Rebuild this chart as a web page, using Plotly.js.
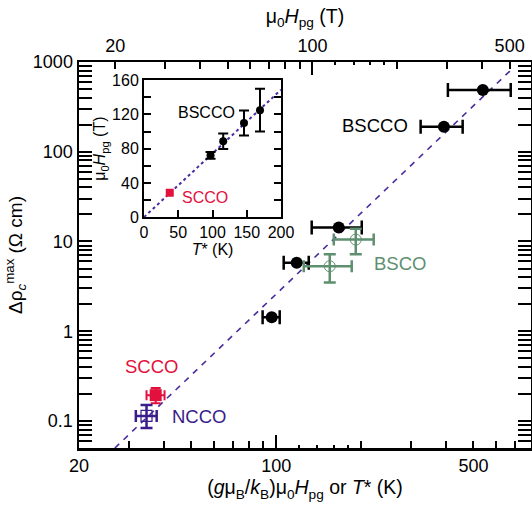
<!DOCTYPE html>
<html>
<head>
<meta charset="utf-8">
<script src="https://cdn.plot.ly/plotly-3.0.1.min.js"></script>
<style>html,body{margin:0;padding:0;background:#fff;}#chart{width:532px;height:505px;}</style>
</head>
<body>
<div id="chart"></div>
<script>
// ---------- data (main panel) ----------
const bsccoX    = [96.4, 118.2, 166.6, 393, 540];
const bsccoXlo  = [89.5, 106.3, 133.6, 325, 406];
const bsccoXhi  = [102.9, 130.4, 201, 458, 678];
const bsccoRho  = [1.43, 5.8, 14.3, 190, 488];

const bscoX     = [191.4, 154.8];
const bscoXlo   = [160, 125.2];
const bscoXhi   = [221.6, 185.2];
const bscoRho   = [10.5, 5.3];
const bscoRhoLo = [7.2, 3.5];
const bscoRhoHi = [13.9, 7.2];

const sccoX     = [37.4];
const sccoXlo   = [34.7];
const sccoXhi   = [40.2];
const sccoRho   = [0.194];
const sccoRhoLo = [0.158];
const sccoRhoHi = [0.233];

const nccoX     = [34.7];
const nccoXlo   = [31.8];
const nccoXhi   = [37.7];
const nccoRho   = [0.114];
const nccoRhoLo = [0.0836];
const nccoRhoHi = [0.151];

// cubic fit  Δρ = A * x^3
const fitA = 0.05 / Math.pow(26.8, 3);
const fitExp = 3;
const fitX = [26.8, 684];

// ---------- data (inset) ----------
const inTstar = [97.1, 115.6, 145.9, 169.3];
const inH     = [72.2, 88.6, 110, 124.9];
const inHerr  = [4, 9, 14.5, 25];
const inSccoT = [37.6];
const inSccoH = [28.4];
const gmuBkB  = 1.344;          // K per T  (g = 2)
const inLineT = [0, 200];

// tick labels
const mainXTicks = [20, 100, 500];
const topTicks   = [20, 100, 500];
const yTicks     = [0.1, 1, 10, 100, 1000];
const yTickText  = ['0.1', '1', '10', '100', '1000'];

// ---------- styling ----------
const FONT = 'Liberation Sans, Arial, Helvetica, sans-serif';
const BLACK = '#000000';
const GREEN = '#5e8f6f';
const RED = '#e3103d';
const PURPLE = '#3a1d8a';
const LINEP = '#4b2c9e';

const diff = (a, b) => a.map((v, i) => v - b[i]);
const xMin = 20, xMax = 800, yMin = 0.05, yMax = 1000;
const lg = Math.log10;

const minorX = [30,40,50,60,70,80,90,200,300,400,600,700,800];
const minorXsmall = [120,140,160,180];
const minorTop = [30,40,50,60,70,80,90,200,300,400];
const minorY = [];
[0.01,0.1,1,10,100].forEach(d => { for (let k = 2; k <= 9; k++) minorY.push(+(d*k).toPrecision(3)); });

const traces = [
  // fit line
  { x: fitX, y: fitX.map(v => fitA * Math.pow(v, fitExp)), mode: 'lines',
    line: { color: LINEP, width: 1.6, dash: '6px,6px' }, hoverinfo: 'skip' },
  // BSCCO
  { x: bsccoX, y: bsccoRho, mode: 'markers',
    marker: { color: BLACK, size: 12, symbol: 'circle' },
    error_x: { type: 'data', symmetric: false, array: diff(bsccoXhi, bsccoX), arrayminus: diff(bsccoX, bsccoXlo),
               color: BLACK, thickness: 2.5, width: 7 } },
  // BSCO
  { x: bscoX, y: bscoRho, mode: 'markers',
    marker: { color: GREEN, size: 11, symbol: 'circle-open', line: { width: 1, color: GREEN } },
    error_x: { type: 'data', symmetric: false, array: diff(bscoXhi, bscoX), arrayminus: diff(bscoX, bscoXlo),
               color: GREEN, thickness: 2.5, width: 6 },
    error_y: { type: 'data', symmetric: false, array: diff(bscoRhoHi, bscoRho), arrayminus: diff(bscoRho, bscoRhoLo),
               color: GREEN, thickness: 2.5, width: 6 } },
  // SCCO
  { x: sccoX, y: sccoRho, mode: 'markers',
    marker: { color: RED, size: 12, symbol: 'square' },
    error_x: { type: 'data', symmetric: false, array: diff(sccoXhi, sccoX), arrayminus: diff(sccoX, sccoXlo),
               color: RED, thickness: 2, width: 5 },
    error_y: { type: 'data', symmetric: false, array: diff(sccoRhoHi, sccoRho), arrayminus: diff(sccoRho, sccoRhoLo),
               color: RED, thickness: 2, width: 5 } },
  // NCCO
  { x: nccoX, y: nccoRho, mode: 'markers',
    marker: { color: PURPLE, size: 11, symbol: 'square-open', line: { width: 1.2, color: PURPLE } },
    error_x: { type: 'data', symmetric: false, array: diff(nccoXhi, nccoX), arrayminus: diff(nccoX, nccoXlo),
               color: PURPLE, thickness: 2.5, width: 6 },
    error_y: { type: 'data', symmetric: false, array: diff(nccoRhoHi, nccoRho), arrayminus: diff(nccoRho, nccoRhoLo),
               color: PURPLE, thickness: 2.5, width: 6 } },
  // dummy traces to realise the extra tick axes
  { x: [], y: [], xaxis: 'x2', yaxis: 'y', mode: 'markers' },
  { x: [], y: [], xaxis: 'x3', yaxis: 'y', mode: 'markers' },
  { x: [], y: [], xaxis: 'x4', yaxis: 'y', mode: 'markers' },
  // inset
  { x: inLineT, y: inLineT.map(t => t / gmuBkB), xaxis: 'x5', yaxis: 'y2', mode: 'lines',
    line: { color: LINEP, width: 2, dash: 'dot' }, hoverinfo: 'skip' },
  { x: inTstar, y: inH, xaxis: 'x5', yaxis: 'y2', mode: 'markers',
    marker: { color: BLACK, size: 8 },
    error_y: { type: 'data', array: inHerr, color: BLACK, thickness: 2, width: 5 } },
  { x: inSccoT, y: inSccoH, xaxis: 'x5', yaxis: 'y2', mode: 'markers',
    marker: { color: RED, size: 8, symbol: 'square' } }
];

const axLine = { showline: true, linecolor: BLACK, linewidth: 2.5, zeroline: false, showgrid: false,
                 ticks: 'inside', tickcolor: BLACK, tickwidth: 2 };

const layout = {
  width: 532, height: 505,
  margin: { l: 79, r: 1, t: 62, b: 57 },
  paper_bgcolor: '#fff', plot_bgcolor: 'rgba(0,0,0,0)',
  showlegend: false,
  font: { family: FONT, size: 18, color: BLACK },
  xaxis: Object.assign({}, axLine, {
    type: 'log', range: [lg(xMin), lg(xMax)], tickmode: 'array', tickvals: mainXTicks,
    ticktext: mainXTicks.map(String), ticklen: 7,
    minor: { tickmode: 'array', tickvals: minorX, ticks: 'inside', ticklen: 7, tickwidth: 2, tickcolor: BLACK },
    tickfont: { size: 18 },
    title: { text: '(<i>g</i>μ<sub>B</sub>/<i>k</i><sub>B</sub>)μ<sub>0</sub><i>H</i><sub>pg</sub> or <i>T</i>* (K)',
             font: { size: 19.5 }, standoff: 6 }
  }),
  xaxis2: Object.assign({}, axLine, {
    type: 'log', overlaying: 'x', side: 'top', anchor: 'y',
    range: [lg(xMin / gmuBkB), lg(xMax / gmuBkB)], tickmode: 'array', tickvals: topTicks,
    ticktext: topTicks.map(String), ticklen: 7,
    minor: { tickmode: 'array', tickvals: minorTop, ticks: 'inside', ticklen: 7, tickwidth: 2, tickcolor: BLACK },
    tickfont: { size: 18 },
    title: { text: 'μ<sub>0</sub><i>H</i><sub>pg</sub> (T)', font: { size: 19.5 }, standoff: 8 }
  }),
  xaxis3: Object.assign({}, axLine, {
    type: 'log', overlaying: 'x', side: 'bottom', anchor: 'y', showline: false,
    range: [lg(xMin), lg(xMax)], tickmode: 'array', tickvals: [100], showticklabels: false, ticklen: 13,
    minor: { tickmode: 'array', tickvals: minorXsmall, ticks: 'inside', ticklen: 3, tickwidth: 2, tickcolor: BLACK }
  }),
  xaxis4: Object.assign({}, axLine, {
    type: 'log', overlaying: 'x', side: 'top', anchor: 'y', showline: false,
    range: [lg(xMin / gmuBkB), lg(xMax / gmuBkB)], tickmode: 'array', tickvals: [100], showticklabels: false, ticklen: 13,
    minor: { tickmode: 'array', tickvals: minorXsmall, ticks: 'inside', ticklen: 3, tickwidth: 2, tickcolor: BLACK }
  }),
  yaxis: Object.assign({}, axLine, {
    type: 'log', range: [lg(yMin), lg(yMax)], tickmode: 'array', tickvals: yTicks, ticktext: yTickText,
    ticklen: 13, mirror: 'allticks',
    minor: { tickmode: 'array', tickvals: minorY, ticks: 'inside', ticklen: 7, tickwidth: 2, tickcolor: BLACK },
    tickfont: { size: 18 },
    title: { text: 'Δρ<sub><i>c</i></sub><sup>max</sup> (Ω cm)', font: { size: 19 }, standoff: 5 }
  }),
  xaxis5: Object.assign({}, axLine, {
    domain: [0.1438, 0.447], anchor: 'y2', range: [0, 200], tickmode: 'array',
    tickvals: [0, 50, 100, 150, 200], ticklen: 7, linewidth: 2, mirror: true,
    tickfont: { size: 16 },
    title: { text: '<i>T</i>* (K)', font: { size: 16 }, standoff: 2 }
  }),
  yaxis2: Object.assign({}, axLine, {
    domain: [0.598, 0.953], anchor: 'x5', range: [0, 160], tickmode: 'array',
    tickvals: [0, 40, 80, 120, 160], ticklen: 7, linewidth: 2, mirror: 'allticks',
    minor: { tickmode: 'array', tickvals: [20, 60, 100, 140], ticks: 'inside', ticklen: 7, tickwidth: 2, tickcolor: BLACK },
    tickfont: { size: 16 },
    title: { text: 'μ<sub>0</sub><i>H</i><sub>pg</sub> (T)', font: { size: 16 }, standoff: 2 }
  }),
  annotations: [
    { text: 'BSCCO', x: 2.473, y: 2.287, xref: 'x', yref: 'y', xanchor: 'right', yanchor: 'middle',
      showarrow: false, font: { size: 18.5, color: BLACK } },
    { text: 'BSCO', x: 2.339, y: 0.760, xref: 'x', yref: 'y', xanchor: 'left', yanchor: 'middle',
      showarrow: false, font: { size: 18.5, color: GREEN } },
    { text: 'SCCO', x: 1.456, y: -0.398, xref: 'x', yref: 'y', xanchor: 'left', yanchor: 'middle',
      showarrow: false, font: { size: 18.5, color: RED } },
    { text: 'NCCO', x: 1.622, y: -0.946, xref: 'x', yref: 'y', xanchor: 'left', yanchor: 'middle',
      showarrow: false, font: { size: 18.5, color: PURPLE } },
    { text: 'BSCCO', x: 135.6, y: 122.5, xref: 'x5', yref: 'y2', xanchor: 'right', yanchor: 'middle',
      showarrow: false, font: { size: 16, color: BLACK } },
    { text: 'SCCO', x: 52.2, y: 23, xref: 'x5', yref: 'y2', xanchor: 'left', yanchor: 'middle',
      showarrow: false, font: { size: 16, color: RED } }
  ]
};

Plotly.newPlot('chart', traces, layout, { staticPlot: true, displayModeBar: false });
</script>
</body>
</html>
